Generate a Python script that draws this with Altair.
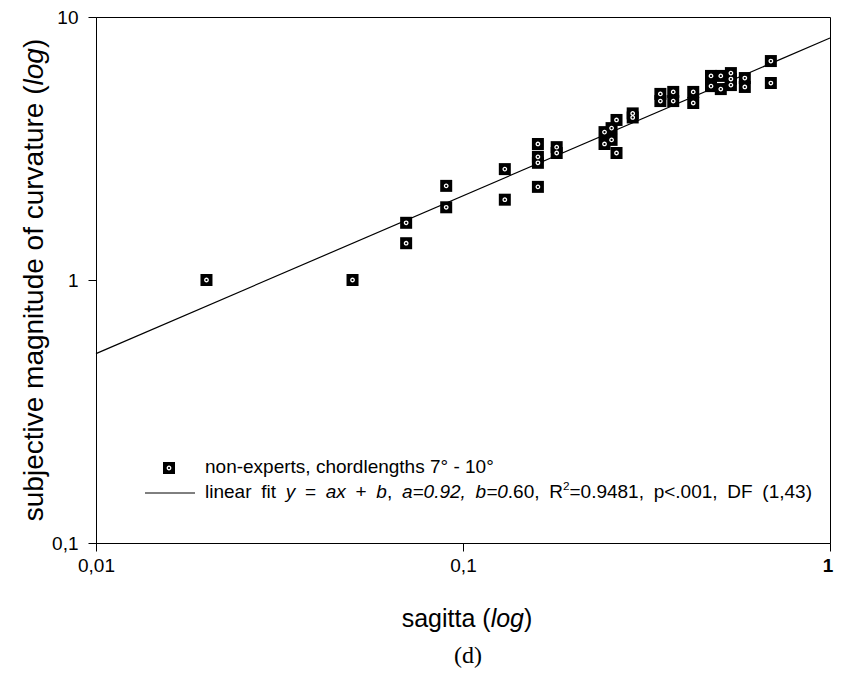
import re
import altair as alt
import pandas as pd

# ---- data ----
sagitta = [0.02, 0.05, 0.07, 0.07, 0.09, 0.09, 0.13, 0.13,
           0.16, 0.16, 0.16, 0.16, 0.18, 0.18,
           0.243, 0.243, 0.254, 0.254, 0.262, 0.262, 0.29, 0.29,
           0.345, 0.345, 0.374, 0.374, 0.424, 0.424, 0.474, 0.474,
           0.504, 0.504, 0.537, 0.537, 0.537, 0.586, 0.586, 0.69, 0.69]
magnitude = [1.0, 1.0, 1.65, 1.38, 2.28, 1.89, 2.64, 2.02,
             3.29, 2.94, 2.79, 2.26, 3.2, 3.04,
             3.65, 3.29, 3.78, 3.41, 4.06, 3.04, 4.3, 4.15,
             5.1, 4.79, 5.19, 4.79, 5.19, 4.71, 5.97, 5.46,
             5.97, 5.32, 6.12, 5.81, 5.51, 5.86, 5.42, 6.8, 5.61]

fit_x = [0.01, 1.0]
fit_y = [0.525, 8.32]

x_ticks = [0.01, 0.1, 1]
y_ticks = [0.1, 1, 10]

legend_line1 = [("non-experts, chordlengths 7° - 10°", "normal")]
legend_line2 = [("linear fit ", "normal"), ("y", "italic"), (" = ", "normal"),
                ("ax", "italic"), (" + ", "normal"), ("b", "italic"), (", ", "normal"),
                ("a=0.92, b=0", "italic"), (".60, R", "normal"), ("2", "sup"),
                ("=0.9481, p<.001, DF (1,43)", "normal")]
x_title = [("sagitta (", "normal"), ("log", "italic"), (")", "normal")]
y_title = [("subjective magnitude of curvature (", "normal"), ("log", "italic"), (")", "normal")]

FONT = "Liberation Sans"
W, H = 734, 526

# Arial / Liberation Sans advance widths (per 1000 em)
ADV = {' ': 278, 'a': 556, 'b': 556, 'c': 500, 'd': 556, 'e': 556, 'f': 278, 'g': 556,
       'h': 556, 'i': 222, 'j': 222, 'k': 500, 'l': 222, 'm': 833, 'n': 556, 'o': 556,
       'p': 556, 'q': 556, 'r': 333, 's': 500, 't': 278, 'u': 556, 'v': 500, 'w': 722,
       'x': 500, 'y': 500, 'z': 500, ',': 278, '.': 278, '=': 584, '+': 584, '<': 584,
       '(': 333, ')': 333, '-': 333, '°': 400, 'R': 722, 'D': 722, 'F': 611}


def text_width(s, size):
    return sum(ADV.get(c, 556) for c in s) * size / 1000.0


one = pd.DataFrame({"k": [0]})


def layout(segments, size, target=None):
    pieces = []
    for t, st in segments:
        fs = size * 0.62 if st == "sup" else size
        for part in re.split(r"( +)", t):
            if part:
                pieces.append((part, st, fs))
    natural = sum(text_width(p, fs) for p, st, fs in pieces)
    nsp = sum(len(p) for p, st, fs in pieces if p.startswith(" "))
    extra = ((target - natural) / nsp) if (target and nsp) else 0.0
    items, pos = [], 0.0
    for p, st, fs in pieces:
        if p.startswith(" "):
            pos += text_width(p, fs) + extra * len(p)
        else:
            items.append((p, st, fs, pos))
            pos += text_width(p, fs)
    return items, pos


def text_run(segments, x0, y0, size, vertical=False, center=False, target=None):
    items, total = layout(segments, size, target)
    start = (x0 - total / 2 if not vertical else y0 + total / 2) if center else (y0 if vertical else x0)
    layers = []
    for p, st, fs, off in items:
        mk = dict(text=p, font=FONT, fontSize=fs, color="black", align="left",
                  baseline="alphabetic",
                  fontStyle="italic" if st == "italic" else "normal")
        if vertical:
            mk["angle"] = 270
            layers.append(alt.Chart(one).mark_text(**mk).encode(
                x=alt.value(x0), y=alt.value(start - off)))
        else:
            dy = -size * 0.42 if st == "sup" else 0
            layers.append(alt.Chart(one).mark_text(**mk).encode(
                x=alt.value(start + off), y=alt.value(y0 + dy)))
    return layers


df = pd.DataFrame({"sagitta": sagitta, "magnitude": magnitude})
fit = pd.DataFrame({"sagitta": fit_x, "magnitude": fit_y})

xenc = alt.X("sagitta:Q",
             scale=alt.Scale(type="log", domain=[0.01, 1]),
             axis=alt.Axis(values=x_ticks, title=None, grid=False, tickSize=8,
                           labelExpr="datum.value < 0.05 ? '0,01' : (datum.value < 0.5 ? '0,1' : '1')",
                           labelFont=FONT, labelFontSize=19, labelColor="black",
                           labelFontWeight={"condition": {"test": "datum.value > 0.5", "value": "bold"},
                                            "value": "normal"},
                           labelOffset={"condition": {"test": "datum.value > 0.5", "value": -2.5},
                                        "value": 0},
                           labelPadding=5, labelFlush=False, labelOverlap=False,
                           domainColor="black", tickColor="black"))
yenc = alt.Y("magnitude:Q",
             scale=alt.Scale(type="log", domain=[0.1, 10]),
             axis=alt.Axis(values=y_ticks, title=None, grid=False, tickSize=8,
                           labelExpr="datum.value < 0.5 ? '0,1' : (datum.value < 5 ? '1' : '10')",
                           labelFont=FONT, labelFontSize=19, labelColor="black",
                           labelPadding=10, labelFlush=False, labelOverlap=False,
                           domainColor="black", tickColor="black"))

fit_line = alt.Chart(fit).mark_line(color="black", strokeWidth=1.2).encode(x=xenc, y=yenc)
squares = alt.Chart(df).mark_square(size=144, color="black", opacity=1).encode(x=xenc, y=yenc)
dots = alt.Chart(df).mark_point(shape="circle", size=12, stroke="white", strokeWidth=1.3,
                                filled=False, opacity=1).encode(x=xenc, y=yenc)

# legend symbol and line
leg_sq = alt.Chart(one).mark_square(size=144, color="black", opacity=1).encode(
    x=alt.value(73), y=alt.value(451))
leg_dot = alt.Chart(one).mark_point(shape="circle", size=12, stroke="white", strokeWidth=1.3,
                                    filled=False, opacity=1).encode(x=alt.value(73), y=alt.value(451))
leg_line = alt.Chart(one).mark_rule(color="black", strokeWidth=1).encode(
    x=alt.value(49), x2=alt.value(99), y=alt.value(476))

texts = []
texts += text_run(legend_line1, 109, 456, 19)
texts += text_run(legend_line2, 109, 481, 19, target=607)
texts += text_run(x_title, 371, 610, 25, center=True)
texts += text_run(y_title, -53, 263, 28, vertical=True, center=True)
texts += [alt.Chart(one).mark_text(text="(d)", font="Liberation Serif", fontSize=24,
                                   color="black", align="center", baseline="alphabetic").encode(
    x=alt.value(372), y=alt.value(646))]

chart = alt.layer(fit_line, squares, dots, leg_sq, leg_dot, leg_line, *texts).properties(
    width=W, height=H,
    autosize=alt.AutoSizeParams(type="none"),
    padding={"left": 88, "top": 9, "right": 4, "bottom": 125},
    background="white",
).configure_view(stroke="black", strokeWidth=1)

chart.save("out.html", embed_options={"renderer": "svg", "actions": False})
